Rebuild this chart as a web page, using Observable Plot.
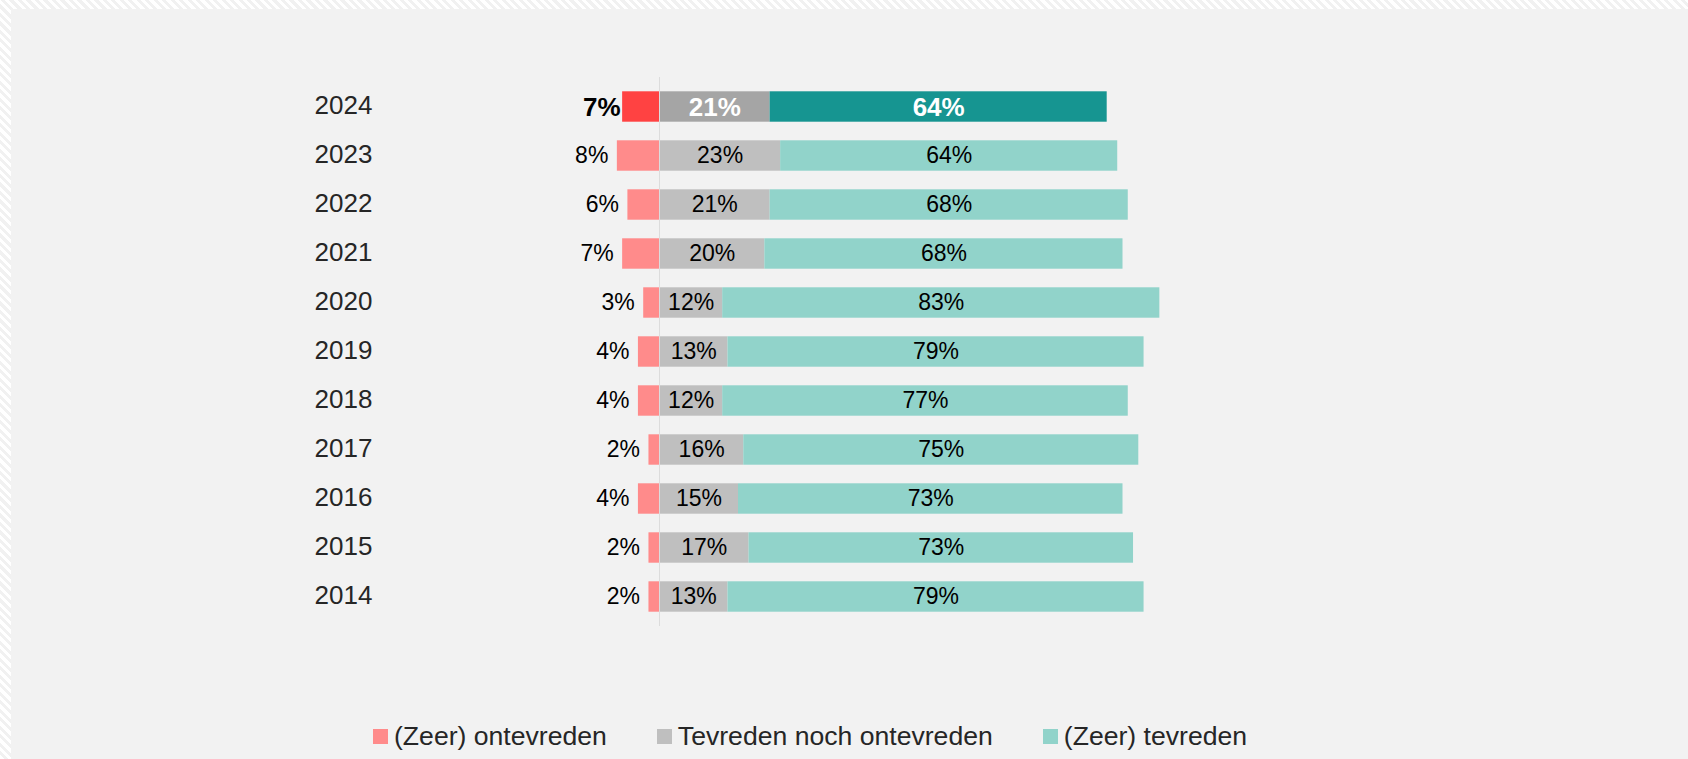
<!DOCTYPE html>
<html>
<head>
<meta charset="utf-8">
<script src="https://cdn.jsdelivr.net/npm/d3@7"></script>
<script src="https://cdn.jsdelivr.net/npm/@observablehq/plot@0.6"></script>
<style>
  html, body { margin: 0; padding: 0; }
  body {
    width: 1688px; height: 759px; overflow: hidden;
    background: repeating-linear-gradient(45deg, #ffffff 0 3px, #f1f1f1 3px 6px);
    font-family: "Liberation Sans", Arial, sans-serif;
  }
  #panel {
    position: absolute; left: 11px; top: 9px; width: 1677px; height: 750px;
    background: #f2f2f2; overflow: hidden;
  }
  #chart svg { display: block; }
  #legend {
    display: flex; align-items: center; gap: 50px;
    margin-left: 362px; margin-top: 22px; height: 30px;
    font-size: 26.6px; color: #262626;
  }
  .item { display: flex; align-items: center; gap: 6px; white-space: nowrap; }
  .sw { width: 15px; height: 15px; display: inline-block; }
</style>
</head>
<body>
<div id="panel">
  <div id="chart"></div>
  <div id="legend"></div>
</div>
<script>
const years = ["2024","2023","2022","2021","2020","2019","2018","2017","2016","2015","2014"];
const ontevreden = [7, 8, 6, 7, 3, 4, 4, 2, 4, 2, 2];
const neutraal   = [21, 23, 21, 20, 12, 13, 12, 16, 15, 17, 13];
const tevreden   = [64, 64, 68, 68, 83, 79, 77, 75, 73, 73, 79];
const categories = ["(Zeer) ontevreden", "Tevreden noch ontevreden", "(Zeer) tevreden"];
const colors = ["#FF8B8B", "#BFBFBF", "#91D3CA"];
const highlightColors = ["#FF4242", "#A5A5A5", "#169591"];
const highlightYear = "2024";

const rows = years.map((year, i) => ({
  year, hl: year === highlightYear,
  neg: ontevreden[i], mid: neutraal[i], pos: tevreden[i]
}));

const segments = [];
for (const r of rows) {
  const pal = r.hl ? highlightColors : colors;
  segments.push({year: r.year, cat: 0, x1: -r.neg, x2: 0, v: r.neg, fill: pal[0], hl: r.hl});
  segments.push({year: r.year, cat: 1, x1: 0, x2: r.mid, v: r.mid, fill: pal[1], hl: r.hl});
  segments.push({year: r.year, cat: 2, x1: r.mid, x2: r.mid + r.pos, v: r.pos, fill: pal[2], hl: r.hl});
}
const innerN = segments.filter(s => s.cat > 0 && !s.hl);
const innerH = segments.filter(s => s.cat > 0 && s.hl);
const outerN = segments.filter(s => s.cat === 0 && !s.hl);
const outerH = segments.filter(s => s.cat === 0 && s.hl);

const pxPerPct = 5.267;
const zeroX = 648;
const mid = d => (d.x1 + d.x2) / 2;
const pct = d => d.v + "%";

const chart = Plot.plot({
  width: 1677,
  height: 690,
  marginTop: 68,
  marginBottom: 73,
  marginLeft: 303,
  marginRight: 0,
  style: {background: "transparent", fontFamily: "'Liberation Sans', Arial, sans-serif"},
  x: {domain: [0, 100], range: [zeroX, zeroX + 100 * pxPerPct], axis: null},
  y: {domain: years, padding: 0, axis: null},
  marks: [
    Plot.barX(segments, {x1: "x1", x2: "x2", y: "year", fill: "fill", insetTop: 9.3, insetBottom: 9.3}),
    Plot.ruleX([0], {stroke: "#dcdcdc", strokeWidth: 1}),
    Plot.text(years, {y: d => d, text: d => d, frameAnchor: "left", textAnchor: "start", fontSize: 26, fill: "#262626", dy: -1}),
    Plot.text(outerN, {x: "x1", y: "year", text: pct, textAnchor: "end", dx: -9, fontSize: 23, fill: "#000"}),
    Plot.text(outerH, {x: "x1", y: "year", text: pct, textAnchor: "end", dx: -2, dy: 1, fontSize: 26, fontWeight: "bold", fill: "#000"}),
    Plot.text(innerN, {x: mid, y: "year", text: pct, fontSize: 23, fill: "#000"}),
    Plot.text(innerH, {x: mid, y: "year", text: pct, dy: 1, fontSize: 26, fontWeight: "bold", fill: "#ffffff"})
  ]
});
document.getElementById("chart").appendChild(chart);

const legend = document.getElementById("legend");
categories.forEach((c, i) => {
  const item = document.createElement("div");
  item.className = "item";
  const sw = document.createElement("span");
  sw.className = "sw";
  sw.style.background = colors[i];
  const label = document.createElement("span");
  label.textContent = c;
  item.appendChild(sw);
  item.appendChild(label);
  legend.appendChild(item);
});
</script>
</body>
</html>
